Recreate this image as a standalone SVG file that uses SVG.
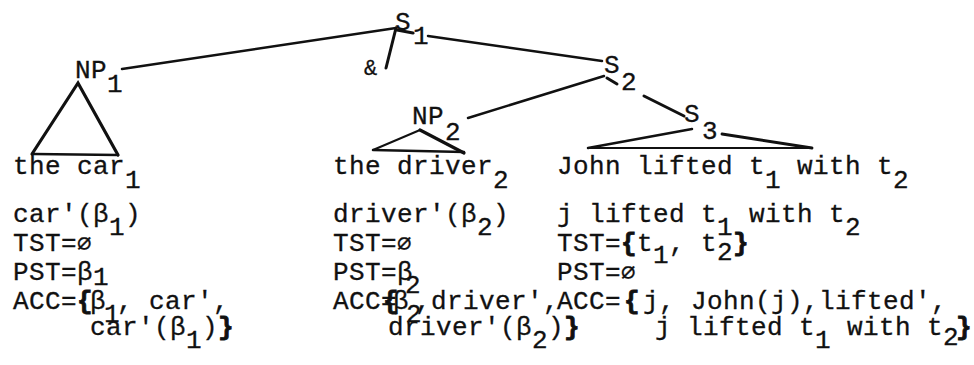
<svg xmlns="http://www.w3.org/2000/svg" width="974" height="365" viewBox="0 0 974 365">
<style>
text{font-family:"Liberation Mono","Courier New",monospace;font-size:26px;letter-spacing:0.4px;fill:#111;stroke:#111;stroke-width:0.3px}
.br{font-weight:bold;stroke-width:0.8px}
.amp{font-size:22px}
.es{font-family:"DejaVu Sans Mono",monospace;font-size:24px}
#connectors line,#connectors polyline{stroke:#111;stroke-linecap:round;fill:none}
</style>
<rect width="974" height="365" fill="#fff"/>
<g id="connectors">
<line x1="122" y1="69" x2="396" y2="28" stroke-width="2.5"/>
<line x1="396" y1="28" x2="386" y2="68" stroke-width="3"/>
<line x1="397" y1="30" x2="413" y2="33" stroke-width="3"/>
<line x1="428" y1="36" x2="602" y2="61" stroke-width="2.5"/>
<line x1="604" y1="76" x2="468" y2="118" stroke-width="2.5"/>
<line x1="607" y1="78" x2="617" y2="84" stroke-width="3"/>
<line x1="644" y1="96" x2="684" y2="116" stroke-width="3"/>
<polyline points="32,154 78,83 118,155" stroke-width="3.2"/>
<line x1="34" y1="154" x2="118" y2="155" stroke-width="2.5"/>
<line x1="420" y1="130" x2="373" y2="150" stroke-width="2"/>
<line x1="420" y1="130" x2="464" y2="153" stroke-width="3.2"/>
<line x1="373" y1="150" x2="464" y2="152" stroke-width="2.5"/>
<line x1="692" y1="129" x2="588" y2="148" stroke-width="2.5"/>
<line x1="722" y1="134" x2="812" y2="148" stroke-width="2.8"/>
<line x1="588" y1="148" x2="812" y2="148" stroke-width="2"/>
</g>
<g id="n-s1"><text x="395" y="30">S<tspan x="413" y="44">1</tspan></text></g>
<g id="n-amp"><text class="amp" x="364" y="75">&amp;</text></g>
<g id="n-np1"><text x="75" y="78">NP<tspan x="107" y="92">1</tspan></text></g>
<g id="n-s2"><text x="604" y="73">S<tspan x="621" y="90">2</tspan></text></g>
<g id="n-np2"><text x="412" y="124">NP<tspan x="445" y="140">2</tspan></text></g>
<g id="n-s3"><text x="684" y="122">S<tspan x="702" y="139">3</tspan></text></g>
<g id="leaf-car">
<text x="13" y="174">the car<tspan x="125" dy="14">1</tspan></text>
<text x="13" y="222">car'(β<tspan dy="13">1</tspan><tspan dy="-13">)</tspan></text>
<text x="13" y="251">TST=<tspan class="es">∅</tspan></text>
<text x="13" y="280">PST=β<tspan dy="5">1</tspan></text>
<text x="13" y="309">ACC=</text>
<text class="br" x="77" y="309">{</text>
<text x="90" y="309">β<tspan x="104" dy="13">1</tspan><tspan x="117" dy="-13">, car',</tspan></text>
<text x="90" y="335">car'(β<tspan dy="13">1</tspan><tspan dy="-13">)</tspan></text>
<text class="br" x="218" y="335">}</text>
</g>
<g id="leaf-driver">
<text x="333" y="174">the driver<tspan x="493" dy="14">2</tspan></text>
<text x="333" y="222">driver'(β<tspan dy="13">2</tspan><tspan dy="-13">)</tspan></text>
<text x="333" y="251">TST=<tspan class="es">∅</tspan></text>
<text x="333" y="280">PST=β<tspan x="405" dy="13">2</tspan></text>
<text x="333" y="309">ACC=</text>
<text class="br" x="383" y="309">{</text>
<text x="393" y="309">β<tspan x="406" dy="13">2</tspan><tspan x="415" dy="-13">,driver',</tspan></text>
<text x="388" y="335">driver'(β<tspan dy="13">2</tspan><tspan dy="-13">)</tspan></text>
<text class="br" x="564" y="335">}</text>
</g>
<g id="leaf-john">
<text x="557" y="174">John lifted t<tspan dy="14">1</tspan><tspan dy="-14"> with t</tspan><tspan dy="14">2</tspan></text>
<text x="557" y="222">j lifted t<tspan dy="13">1</tspan><tspan dy="-13"> with t</tspan><tspan dy="13">2</tspan></text>
<text x="557" y="251">TST=</text>
<text class="br" x="621" y="251">{</text>
<text x="637" y="251">t<tspan dy="12">1</tspan><tspan dy="-12">, t</tspan><tspan dy="9">2</tspan></text>
<text class="br" x="733" y="251">}</text>
<text x="557" y="280">PST=<tspan class="es">∅</tspan></text>
<text x="557" y="309">ACC=</text>
<text class="br" x="624" y="309">{</text>
<text x="643" y="309">j, John(j),lifted',</text>
<text x="655" y="335">j lifted t<tspan dy="13">1</tspan><tspan dy="-13"> with t</tspan><tspan dy="10">2</tspan></text>
<text class="br" x="956" y="335">}</text>
</g>
</svg>
